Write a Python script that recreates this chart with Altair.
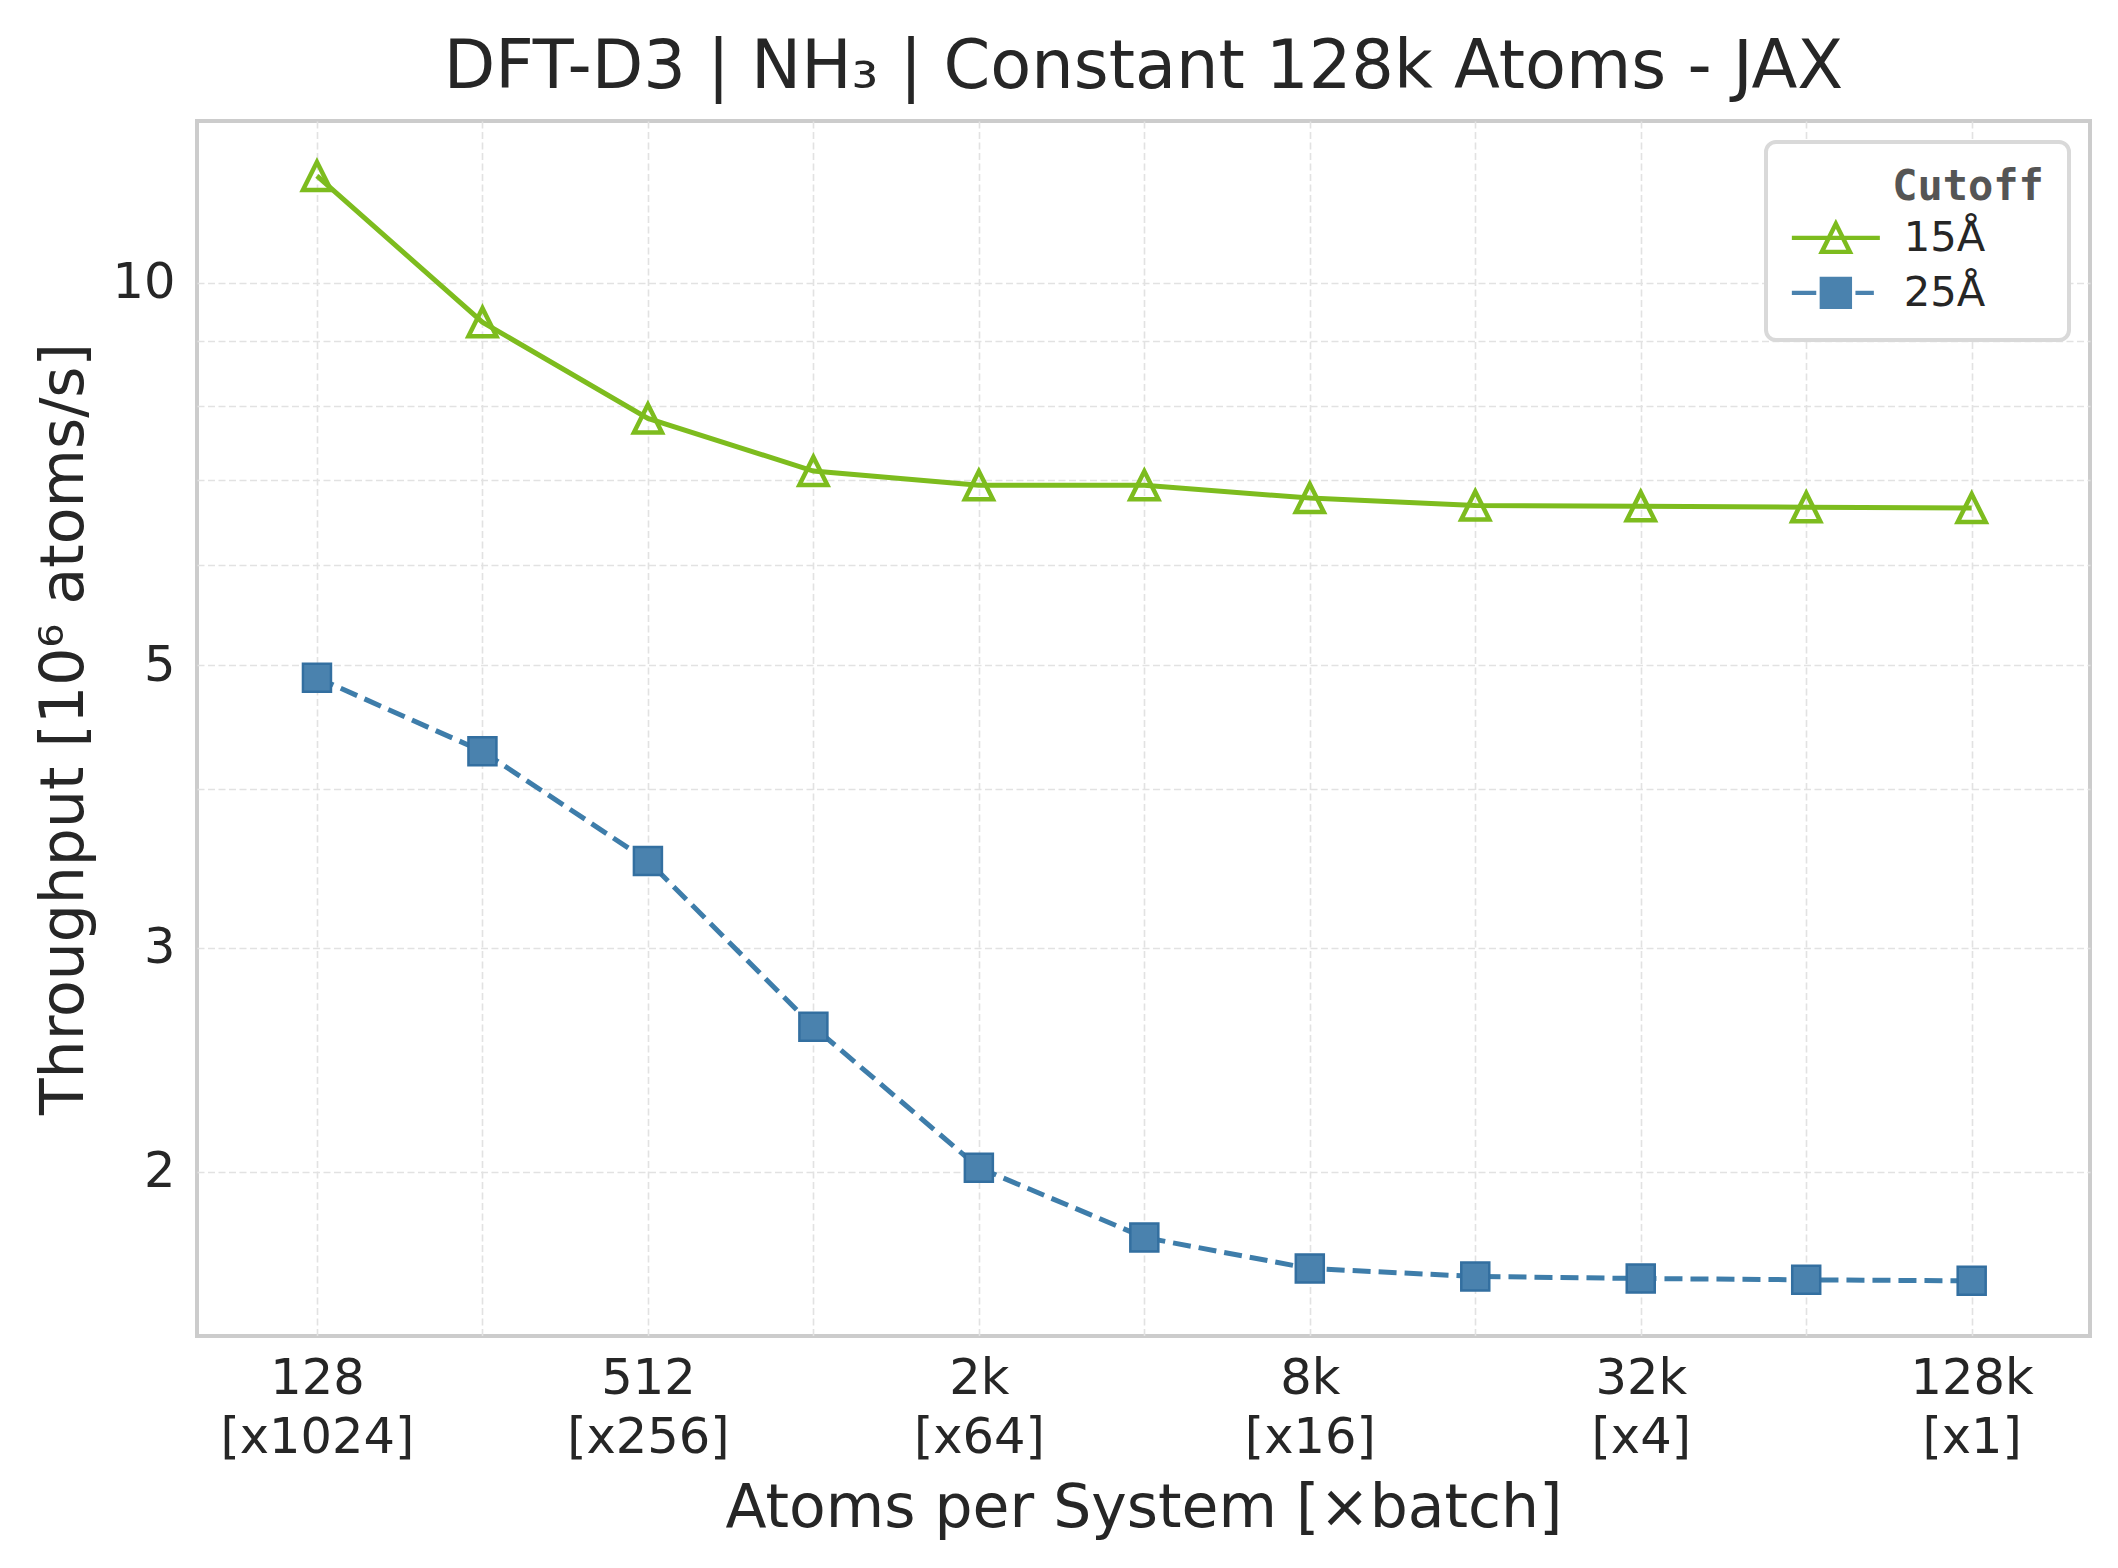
import altair as alt
import pandas as pd

# ---------------- data ----------------
atoms = [128, 256, 512, 1024, 2048, 4096, 8192, 16384, 32768, 65536, 131072]
thr_15 = [12.13, 9.31, 7.82, 7.11, 6.93, 6.93, 6.77, 6.68, 6.67, 6.66, 6.65]
thr_25 = [4.89, 4.28, 3.51, 2.60, 2.014, 1.775, 1.678, 1.654, 1.648, 1.644, 1.641]
cutoffs = ["15Å", "25Å"]

tick_atoms = [128, 512, 2048, 8192, 32768, 131072]
tick_top = ["128", "512", "2k", "8k", "32k", "128k"]
tick_bottom = ["[x1024]", "[x256]", "[x64]", "[x16]", "[x4]", "[x1]"]

y_grid = [2, 3, 4, 5, 6, 7, 8, 9, 10]
y_labeled = [2, 3, 5, 10]

rows = []
for a, v in zip(atoms, thr_15):
    rows.append({"atoms": a, "thr": v, "cutoff": cutoffs[0]})
for a, v in zip(atoms, thr_25):
    rows.append({"atoms": a, "thr": v, "cutoff": cutoffs[1]})
df = pd.DataFrame(rows)

# ---------------- styling ----------------
GREEN = "#7dbc1e"
BLUE_LINE = "#3e7daa"
BLUE_FILL = "#4a82ae"
BLUE_EDGE = "#336fa0"
TEXT = "#262626"
FONT = "DejaVu Sans"

x_domain = [2 ** (7 - 0.725), 2 ** (17 + 0.715)]
y_domain = [1.485, 13.40]

x_label_expr = " : ".join(
    f"datum.value == {a} ? ['{t}', '{b}']" for a, t, b in zip(tick_atoms, tick_top, tick_bottom)
) + " : ''"
y_label_expr = "(" + " || ".join(f"datum.value == {v}" for v in y_labeled) + ") ? toString(datum.value) : ''"

x_enc = alt.X(
    "atoms:Q",
    scale=alt.Scale(type="log", base=2, domain=x_domain, nice=False),
    axis=alt.Axis(
        values=atoms,
        labelExpr=x_label_expr,
        title="Atoms per System [×batch]",
        ticks=False,
        domain=False,
        labelFontSize=49.5,
        labelPadding=18,
        labelLineHeight=59,
        labelOverlap=False,
        labelFlush=False,
        labelLimit=500,
        labelBaseline="top",
        titleFontSize=60,
        titleY=190,
        titleBaseline="alphabetic",
    ),
)
y_enc = alt.Y(
    "thr:Q",
    scale=alt.Scale(type="log", domain=y_domain, nice=False),
    axis=alt.Axis(
        values=y_grid,
        labelExpr=y_label_expr,
        title="Throughput [10⁶ atoms/s]",
        ticks=False,
        domain=False,
        labelFontSize=49.5,
        labelPadding=22,
        labelOverlap=False,
        labelFlush=False,
        titleFontSize=60,
        titleX=-115,
        titleY=607.5,
        titleBaseline="alphabetic",
    ),
)

# legend glyphs (line + marker), drawn as filled outlines; 1 unit = 20 px
legend_path_15 = (
    "M-2.2,-0.11L2.2,-0.11L2.2,0.11L-2.2,0.11Z"
    "M0,-0.95L0.88,0.81L-0.88,0.81Z"
    "M0,-0.45L-0.52,0.59L0.52,0.59Z"
)
legend_path_25 = (
    "M-2.2,-0.11L-0.98,-0.11L-0.98,0.11L-2.2,0.11Z"
    "M0.98,-0.11L1.9,-0.11L1.9,0.11L0.98,0.11Z"
    "M-0.81,-0.81L0.81,-0.81L0.81,0.81L-0.81,0.81Z"
)

legend = alt.Legend(
    title="\u200b\u00a0\u00a0\u00a0\u00a0Cutoff",
    orient="top-right",
    offset=21,
    fillColor="white",
    strokeColor="#d9d9d9",
    cornerRadius=10,
    padding=25,
    titleFont="DejaVu Sans Mono",
    titleFontWeight="bold",
    titleFontSize=42,
    titleColor="#555555",
    titlePadding=8,
    titleLimit=500,
    labelFont=FONT,
    labelFontSize=41.7,
    labelColor=TEXT,
    labelOffset=47,
    symbolSize=1600,
    symbolOffset=24,
    symbolStrokeWidth=0,
    symbolOpacity=1,
    rowPadding=12,
)

base = alt.Chart(df)

line_15 = base.transform_filter(alt.datum.cutoff == cutoffs[0]).mark_line(
    strokeWidth=5, stroke=GREEN
).encode(x=x_enc, y=y_enc)

line_25 = base.transform_filter(alt.datum.cutoff == cutoffs[1]).mark_line(
    strokeWidth=5, stroke=BLUE_LINE, strokeDash=[18, 8]
).encode(x=x_enc, y=y_enc)

tri = base.transform_filter(alt.datum.cutoff == cutoffs[0]).mark_point(
    shape="M0,-1L-1,1L1,1Z",
    size=784,
    filled=False,
    stroke=GREEN,
    strokeWidth=4.5,
    strokeJoin="miter",
    opacity=1,
).encode(x=x_enc, y=y_enc)

sq = base.transform_filter(alt.datum.cutoff == cutoffs[1]).mark_point(
    shape="square",
    size=784,
    filled=True,
    fill=BLUE_FILL,
    stroke=BLUE_EDGE,
    strokeWidth=2.5,
    opacity=1,
    fillOpacity=1,
).encode(x=x_enc, y=y_enc)

# invisible layer that only carries the legend (opacity 0 marks)
legend_layer = base.mark_point(filled=True, size=1600, opacity=0, strokeWidth=0).encode(
    x=x_enc,
    y=y_enc,
    color=alt.Color("cutoff:N", scale=alt.Scale(domain=cutoffs, range=[GREEN, BLUE_FILL]), legend=legend),
    shape=alt.Shape("cutoff:N", scale=alt.Scale(domain=cutoffs, range=[legend_path_15, legend_path_25]), legend=legend),
)

chart = (
    alt.layer(line_15, line_25, tri, sq, legend_layer)
    .properties(
        width=1893,
        height=1215,
        padding={"left": 189, "top": 113, "right": 16, "bottom": 214},
        autosize=alt.AutoSizeParams(type="none"),
        background="white",
        title=alt.TitleParams(
            text="DFT-D3 | NH₃ | Constant 128k Atoms - JAX",
            font=FONT,
            fontSize=67,
            fontWeight="normal",
            color=TEXT,
            anchor="middle",
            baseline="alphabetic",
            offset=30,
            dy=64,
        ),
    )
    .configure_view(stroke="#cccccc", strokeWidth=4)
    .configure_axis(
        labelFont=FONT,
        titleFont=FONT,
        labelColor=TEXT,
        titleColor=TEXT,
        titleFontWeight="normal",
        gridColor="#e2e2e2",
        gridWidth=1.6,
        gridDash=[7, 3.5],
    )
    .configure_legend(strokeWidth=4)
)

chart.save("out.html", embed_options={"renderer": "svg", "actions": False})
